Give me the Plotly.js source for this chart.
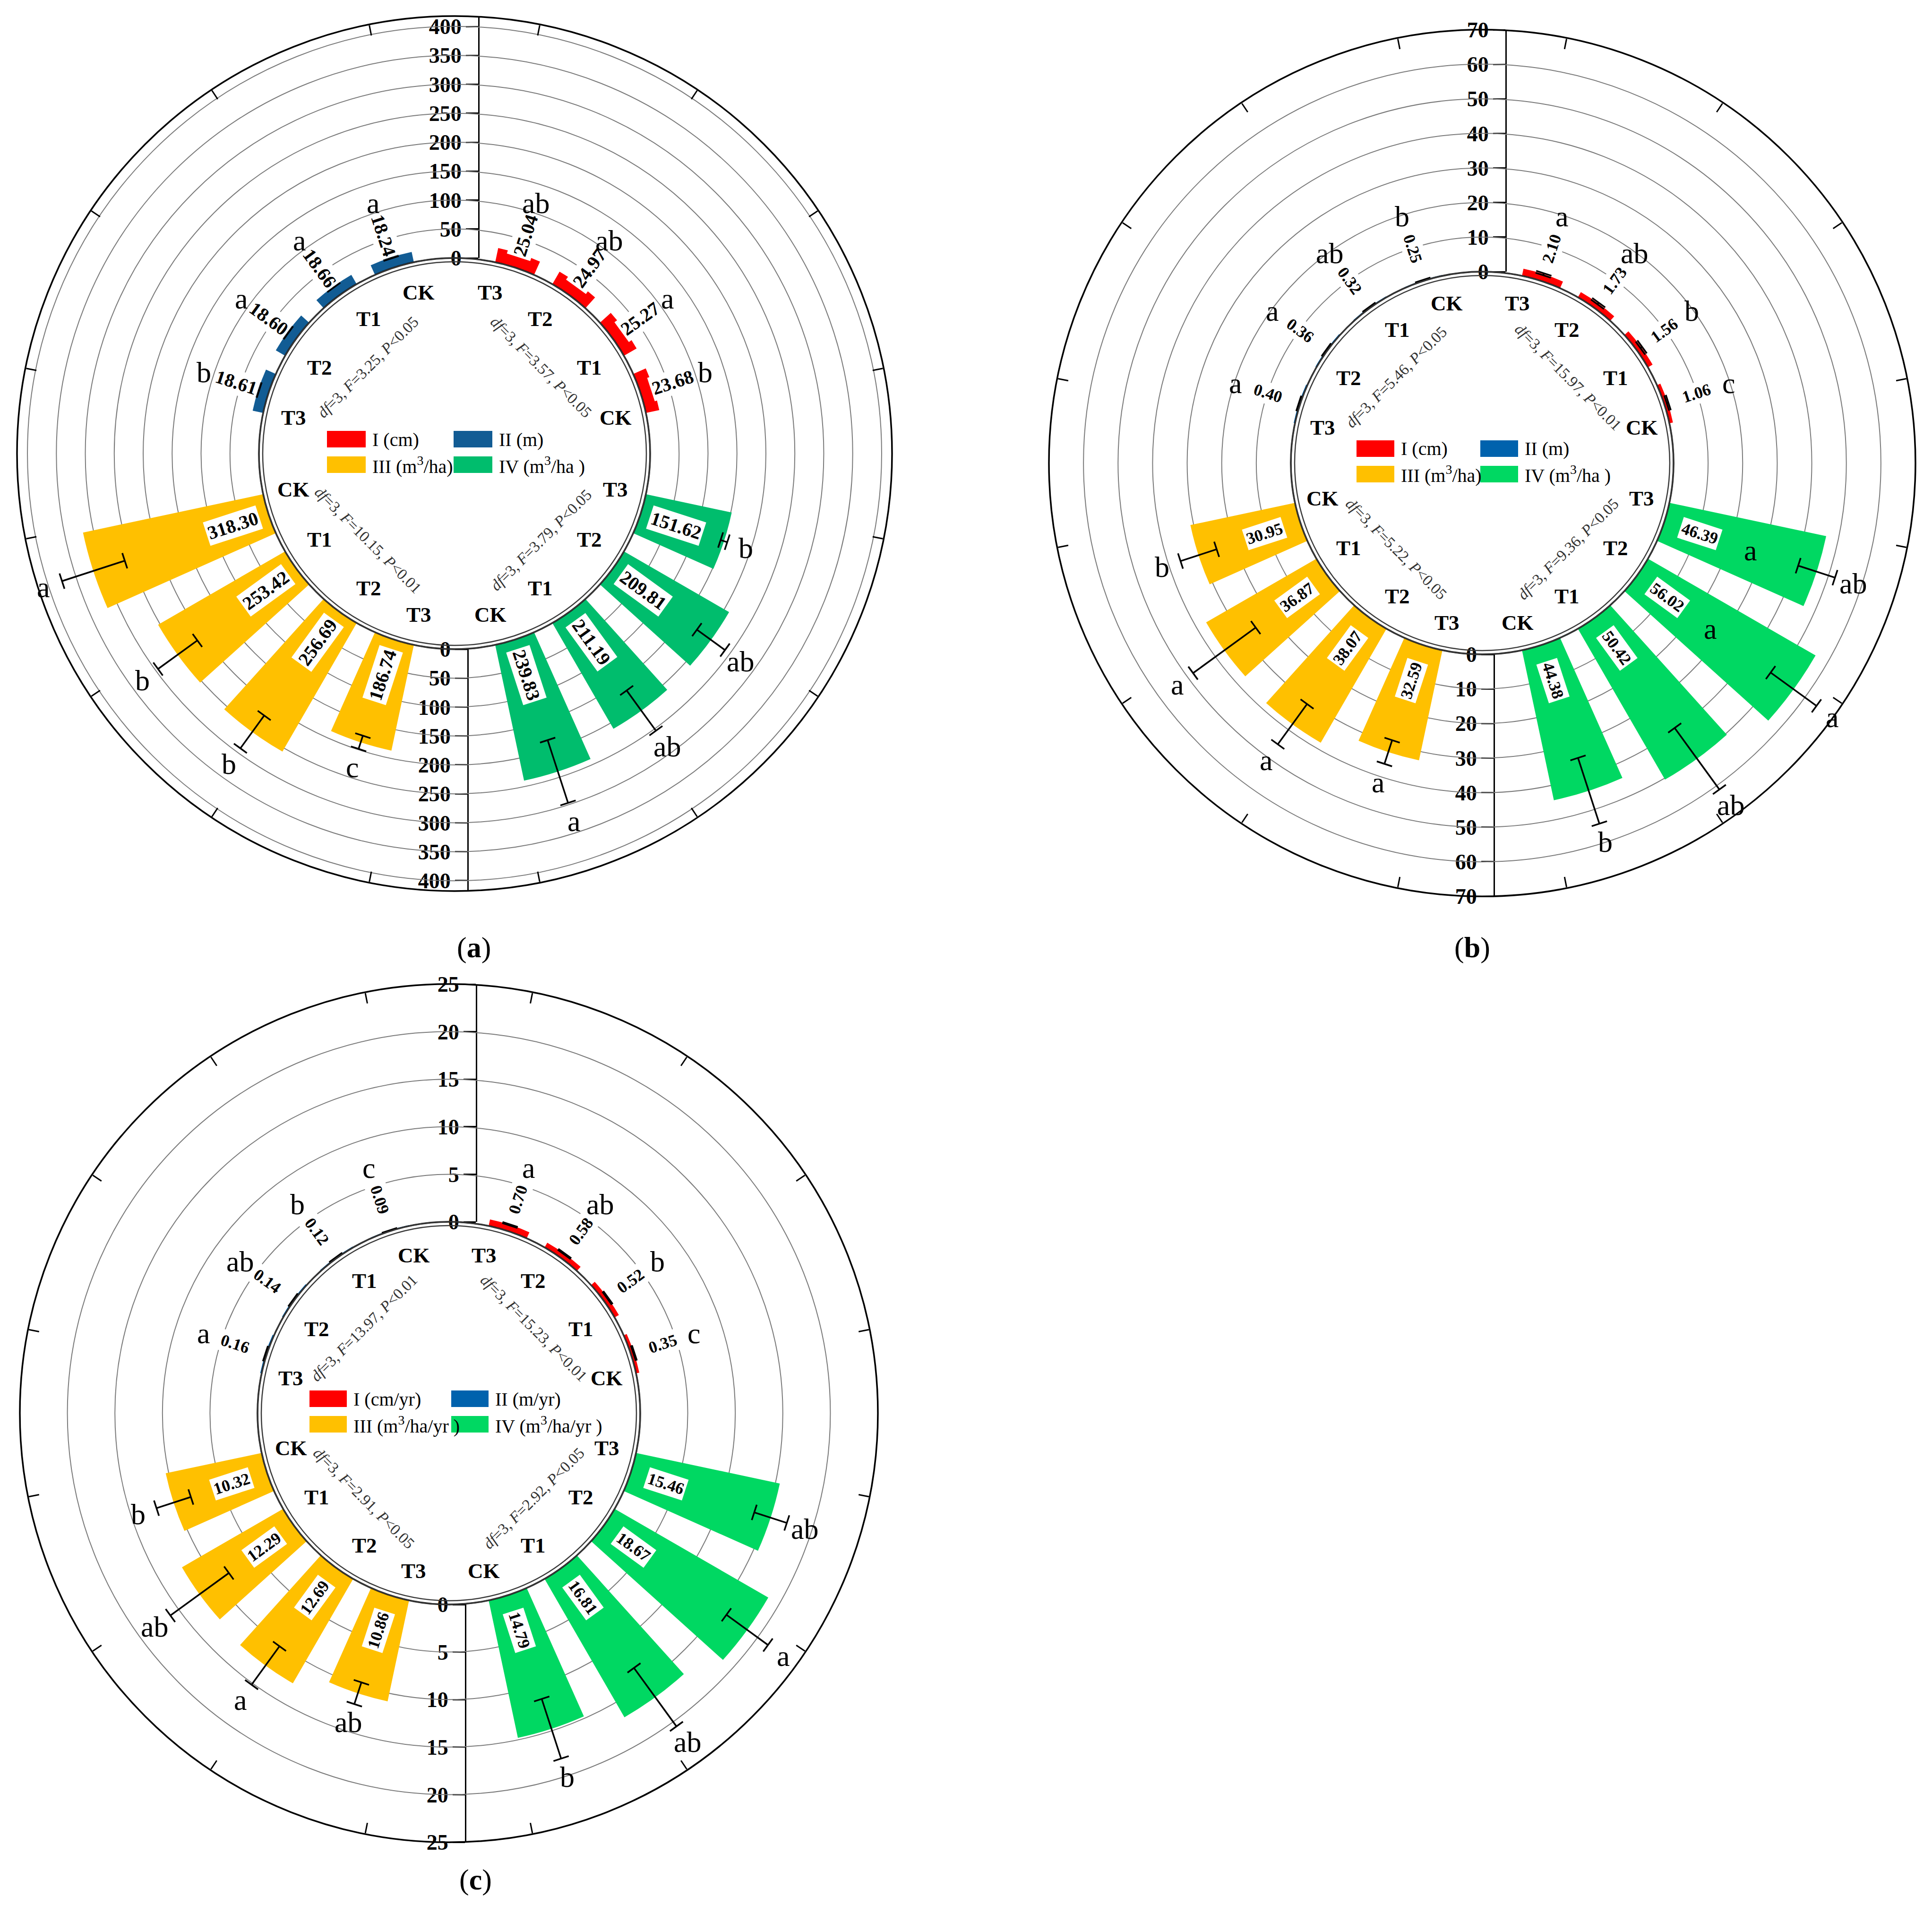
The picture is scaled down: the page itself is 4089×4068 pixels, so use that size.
<!DOCTYPE html>
<html>
<head>
<meta charset="utf-8">
<script src="https://cdn.plot.ly/plotly-3.0.1.min.js"></script>
<style>
  html, body { margin: 0; padding: 0; background: #fff; }
</style>
</head>
<body>
<div id="chart"></div>
<script>
// treatments, listed CK -> T3 (drawn clockwise T3, T2, T1, CK inside each quarter)
var treatments = ["CK", "T1", "T2", "T3"];

// ---- panel (a) ----
var a_I = [23.68, 25.27, 24.97, 25.04];
var a_I_err = [2.5, 2.5, 2.5, 2.5];
var a_I_sig = ["b", "a", "ab", "ab"];
var a_II = [18.24, 18.66, 18.60, 18.61];
var a_II_err = [1.5, 1.5, 1.5, 1.5];
var a_II_sig = ["a", "a", "a", "b"];
var a_III = [318.30, 253.42, 256.69, 186.74];
var a_III_err = [57, 42, 35, 12];
var a_III_sig = ["a", "b", "b", "c"];
var a_IV = [239.83, 211.19, 209.81, 151.62];
var a_IV_err = [57, 43, 30, 6];
var a_IV_sig = ["a", "ab", "ab", "b"];
var a_units = ["I (cm)", "II (m)", "III (m<sup>3</sup>/ha)", "IV (m<sup>3</sup>/ha )"];
var a_stats = ["<i>df</i>=3, <i>F</i>=3.57, <i>P</i>&lt;0.05", "<i>df</i>=3, <i>F</i>=3.25, <i>P</i>&lt;0.05",
               "<i>df</i>=3, <i>F</i>=10.15, <i>P</i>&lt;0.01", "<i>df</i>=3, <i>F</i>=3.79, <i>P</i>&lt;0.05"];

// ---- panel (b) ----
var b_I = [1.06, 1.56, 1.73, 2.10];
var b_I_err = [0.25, 0.3, 0.3, 0.3];
var b_I_sig = ["c", "b", "ab", "a"];
var b_II = [0.25, 0.32, 0.36, 0.40];
var b_II_err = [0.1, 0.1, 0.1, 0.1];
var b_II_sig = ["b", "ab", "a", "a"];
var b_III = [30.95, 36.87, 38.07, 32.59];
var b_III_err = [5.5, 11.2, 7.2, 3.6];
var b_III_sig = ["b", "a", "a", "a"];
var b_IV = [44.38, 50.42, 56.02, 46.39];
var b_IV_err = [10, 11, 8.2, 5.6];
var b_IV_sig = ["b", "ab", "a", "ab"];
var b_units = ["I (cm)", "II (m)", "III (m<sup>3</sup>/ha)", "IV (m<sup>3</sup>/ha )"];
var b_stats = ["<i>df</i>=3, <i>F</i>=15.97, <i>P</i>&lt;0.01", "<i>df</i>=3, <i>F</i>=5.46, <i>P</i>&lt;0.05",
               "<i>df</i>=3, <i>F</i>=5.22, <i>P</i>&lt;0.05", "<i>df</i>=3, <i>F</i>=9.36, <i>P</i>&lt;0.05"];

// ---- panel (c) ----
var c_I = [0.35, 0.52, 0.58, 0.70];
var c_I_err = [0.06, 0.06, 0.06, 0.06];
var c_I_sig = ["c", "b", "ab", "a"];
var c_II = [0.09, 0.12, 0.14, 0.16];
var c_II_err = [0.02, 0.02, 0.02, 0.02];
var c_II_sig = ["c", "b", "ab", "a"];
var c_III = [10.32, 12.29, 12.69, 10.86];
var c_III_err = [1.9, 3.8, 2.5, 1.2];
var c_III_sig = ["b", "ab", "a", "ab"];
var c_IV = [14.79, 16.81, 18.67, 15.46];
var c_IV_err = [3.3, 3.8, 2.7, 1.8];
var c_IV_sig = ["b", "ab", "a", "ab"];
var c_units = ["I (cm/yr)", "II (m/yr)", "III (m<sup>3</sup>/ha/yr )", "IV (m<sup>3</sup>/ha/yr )"];
var c_stats = ["<i>df</i>=3, <i>F</i>=15.23, <i>P</i>&lt;0.01", "<i>df</i>=3, <i>F</i>=13.97, <i>P</i>&lt;0.01",
               "<i>df</i>=3, <i>F</i>=2.91, <i>P</i>&lt;0.05", "<i>df</i>=3, <i>F</i>=2.92, <i>P</i>&lt;0.05"];


var W = 4089, H = 4068;
var serif = '"Liberation Serif", "Times New Roman", serif';

// where each panel sits on the page (pixels)
var panels = [
  { name: "a", cx: 962, cy: 960, R: 926, hole: 414, rmax: 418, step: 50, top: 400, axTop: 1015, axBot: 992,
    valFont: 40, legX: [-270, -2], legW: 82, legText: 94, lab: [965, 2005],
    colors: ["#FF0000", "#125C94", "#FFC000", "#00BD6D"],
    vals: [a_I, a_II, a_III, a_IV], errs: [a_I_err, a_II_err, a_III_err, a_IV_err],
    sigs: [a_I_sig, a_II_sig, a_III_sig, a_IV_sig], units: a_units, stats: a_stats },
  { name: "b", cx: 3137, cy: 980, R: 917, hole: 405, rmax: 70, step: 10, top: 70, axTop: 3189, axBot: 3164,
    valFont: 35, legX: [-266, -4], legW: 80, legText: 92, lab: [3156, 2005],
    colors: ["#FF0000", "#0062AD", "#FFC000", "#00D862"],
    vals: [b_I, b_II, b_III, b_IV], errs: [b_I_err, b_II_err, b_III_err, b_IV_err],
    sigs: [b_I_sig, b_II_sig, b_III_sig, b_IV_sig], units: b_units, stats: b_stats },
  { name: "c", cx: 950, cy: 2991, R: 908, hole: 405, rmax: 25, step: 5, top: 25, axTop: 1010, axBot: 987,
    valFont: 35, legX: [-295, 5], legW: 79, legText: 91, lab: [970, 4015],
    colors: ["#FF0000", "#0062AD", "#FFC000", "#00D862"],
    vals: [c_I, c_II, c_III, c_IV], errs: [c_I_err, c_II_err, c_III_err, c_IV_err],
    sigs: [c_I_sig, c_II_sig, c_III_sig, c_IV_sig], units: c_units, stats: c_stats }
];

// quarter each series goes in (compass degrees, clockwise from top)
var quarterStart = [0, 270, 180, 90];   // I, II, III, IV
var labelAng = [12.5, 32.5, 57.5, 77.5]; // T3, T2, T1, CK labels inside the hole
var labelRad = [0.377, 0.365, 0.365, 0.377];

var angTicks = [];
for (var t = 11.25; t < 360; t += 22.5) angTicks.push(t);

function fx(px) { return px / W; }
function fy(px) { return 1 - px / H; }

var traces = [];
var layout = {
  width: W, height: H,
  margin: { l: 0, r: 0, t: 0, b: 0 },
  paper_bgcolor: "#fff",
  plot_bgcolor: "rgba(0,0,0,0)",
  showlegend: false,
  annotations: [],
  shapes: []
};

panels.forEach(function (p, k) {
  var pk = k === 0 ? "polar" : "polar" + (k + 1);
  var n = 3 * k + 1;
  var ov = n === 1 ? "" : String(n);
  var xr = "x" + ov, yr = "y" + ov;
  var dx = [fx(p.cx - p.R), fx(p.cx + p.R)];
  var dy = [fy(p.cy + p.R), fy(p.cy - p.R)];
  var span = p.R - p.hole;

  function rpx(v) { return p.hole + span * v / p.rmax; }
  function at(rp, th) {
    var a = th * Math.PI / 180;
    return [rp * Math.sin(a), rp * Math.cos(a)];
  }
  function readAngle(th) { return th < 180 ? th - 90 : th - 270; }

  var gridVals = [], scaleVals = [];
  for (var v = 0; v <= p.top + 1e-9; v += p.step) {
    scaleVals.push(v);
    if (v > 0 && v < p.rmax) gridVals.push(v);
  }

  layout[pk] = {
    domain: { x: dx, y: dy },
    hole: p.hole / p.R,
    bgcolor: "rgba(0,0,0,0)",
    angularaxis: {
      type: "linear", rotation: 90, direction: "clockwise",
      tickmode: "array", tickvals: angTicks,
      ticks: "inside", ticklen: 22, tickwidth: 3, tickcolor: "#000",
      showline: true, linecolor: "#000", linewidth: 3.5,
      showgrid: false, showticklabels: false
    },
    radialaxis: {
      range: [0, p.rmax], tickmode: "array", tickvals: gridVals,
      showgrid: true, gridcolor: "#7a7a7a", gridwidth: 2,
      showline: false, showticklabels: false, ticks: "", layer: "below traces"
    }
  };

  // overlay axes in pixels around the centre, for texts and the legend
  layout["xaxis" + ov] = { domain: dx, range: [-p.R, p.R], visible: false, anchor: yr, fixedrange: true };
  layout["yaxis" + ov] = { domain: dy, range: [-p.R, p.R], visible: false, anchor: xr, fixedrange: true };
  traces.push({ type: "scatter", x: [], y: [], xaxis: xr, yaxis: yr, hoverinfo: "skip" });

  // radial scales, up from the hole and down from the hole
  var scaleFont = { family: serif, size: 46, color: "#000", weight: "bold" };
  [[n + 1, p.axTop, [fy(p.cy - p.hole), fy(p.cy - p.R)], [0, p.rmax]],
   [n + 2, p.axBot, [fy(p.cy + p.R), fy(p.cy + p.hole)], [p.rmax, 0]]].forEach(function (s) {
    layout["xaxis" + s[0]] = { domain: [fx(s[1]), fx(s[1]) + 0.001], anchor: "y" + s[0], visible: false, fixedrange: true };
    layout["yaxis" + s[0]] = {
      domain: s[2], range: s[3], anchor: "x" + s[0], side: "left",
      tickmode: "array", tickvals: scaleVals,
      showline: true, linecolor: "#000", linewidth: 3,
      ticks: "outside", ticklen: 26, tickwidth: 3, tickcolor: "#000",
      showgrid: false, zeroline: false, tickfont: scaleFont, fixedrange: true
    };
    traces.push({ type: "scatter", x: [], y: [], xaxis: "x" + s[0], yaxis: "y" + s[0], hoverinfo: "skip" });
  });

  // double line round the hole
  [p.hole, p.hole - 8].forEach(function (rr) {
    layout.shapes.push({ type: "circle", xref: xr, yref: yr, x0: -rr, x1: rr, y0: -rr, y1: rr,
      line: { color: "#3a3a3a", width: 2.5 }, layer: "above" });
  });

  for (var q = 0; q < 4; q++) {
    var vals = p.vals[q], errs = p.errs[q], sigs = p.sigs[q];
    var start = quarterStart[q];
    var thetas = vals.map(function (v, i) { return start + 18 * (4 - i); });

    traces.push({
      type: "barpolar", subplot: pk, r: vals, theta: thetas, width: 12,
      marker: { color: p.colors[q], line: { width: 0 } }, hoverinfo: "skip"
    });

    var er = [], et = [];
    vals.forEach(function (v, i) {
      var lo = v - errs[i], hi = v + errs[i], th = thetas[i];
      var d1 = 17 / rpx(lo) * 180 / Math.PI, d2 = 17 / rpx(hi) * 180 / Math.PI;
      er.push(lo, hi, null, lo, lo, null, hi, hi, null);
      et.push(th, th, null, th - d1, th + d1, null, th - d2, th + d2, null);
    });
    traces.push({
      type: "scatterpolar", subplot: pk, r: er, theta: et, mode: "lines",
      line: { color: "#000", width: 3.5 }, connectgaps: false, cliponaxis: false, hoverinfo: "skip"
    });

    vals.forEach(function (v, i) {
      var th = thetas[i];
      var small = v / p.rmax < 0.15;
      var lp = at(rpx(small ? 0.14 * p.rmax : 0.155 * p.rmax), th);
      layout.annotations.push({
        xref: xr, yref: yr, x: lp[0], y: lp[1], text: v.toFixed(2), showarrow: false,
        textangle: readAngle(th), bgcolor: "#fff", borderpad: 3,
        font: { family: serif, size: p.valFont, color: "#000", weight: "bold" }
      });
      var sr = small ? 0.28 * p.rmax : v + errs[i] + 0.08 * p.rmax;
      var sp = at(rpx(sr), th);
      layout.annotations.push({
        xref: xr, yref: yr, x: sp[0], y: sp[1], text: sigs[i], showarrow: false,
        font: { family: serif, size: 62, color: "#000" }
      });
      // treatment names inside the hole
      var slot = 3 - i;
      var tp = at(labelRad[slot] * p.R, start + labelAng[slot]);
      layout.annotations.push({
        xref: xr, yref: yr, x: tp[0], y: tp[1], text: treatments[i], showarrow: false,
        font: { family: serif, size: 45, color: "#000", weight: "bold" }
      });
    });

    // ANOVA line along the diagonal of the quarter
    var st = at(0.28 * p.R, start + 45);
    layout.annotations.push({
      xref: xr, yref: yr, x: st[0], y: st[1], text: p.stats[q], showarrow: false,
      textangle: (q === 0 || q === 2) ? 45 : -45,
      font: { family: serif, size: 33, color: "#333" }
    });

    // legend boxes in the middle
    var col = (q === 0 || q === 2) ? 0 : 1;
    var row = q < 2 ? 0 : 1;
    var x0 = p.legX[col];
    var y0 = row === 0 ? 13 : -41;
    layout.shapes.push({ type: "rect", xref: xr, yref: yr, x0: x0, x1: x0 + p.legW, y0: y0, y1: y0 + 35,
      fillcolor: p.colors[q], line: { width: 0 }, layer: "above" });
    layout.annotations.push({
      xref: xr, yref: yr, x: x0 + p.legText, y: y0 + 17, xanchor: "left", text: p.units[q], showarrow: false,
      font: { family: serif, size: 40, color: "#000" }
    });
  }

  // panel letter
  layout.annotations.push({
    xref: "paper", yref: "paper", x: fx(p.lab[0]), y: fy(p.lab[1]), text: "(<b>" + p.name + "</b>)",
    showarrow: false, font: { family: serif, size: 62, color: "#000" }
  });

  // panel (b) has two leftover "a" marks sitting inside the green T3 and T2 bars
  if (p.name === "b") {
    [108, 126].forEach(function (th) {
      var sp = at(rpx(26.3), th);
      layout.annotations.push({ xref: xr, yref: yr, x: sp[0], y: sp[1], text: "a", showarrow: false,
        font: { family: serif, size: 62, color: "#000" } });
    });
  }
});

Plotly.newPlot("chart", traces, layout, { staticPlot: true, displayModeBar: false });
</script>
</body>
</html>
